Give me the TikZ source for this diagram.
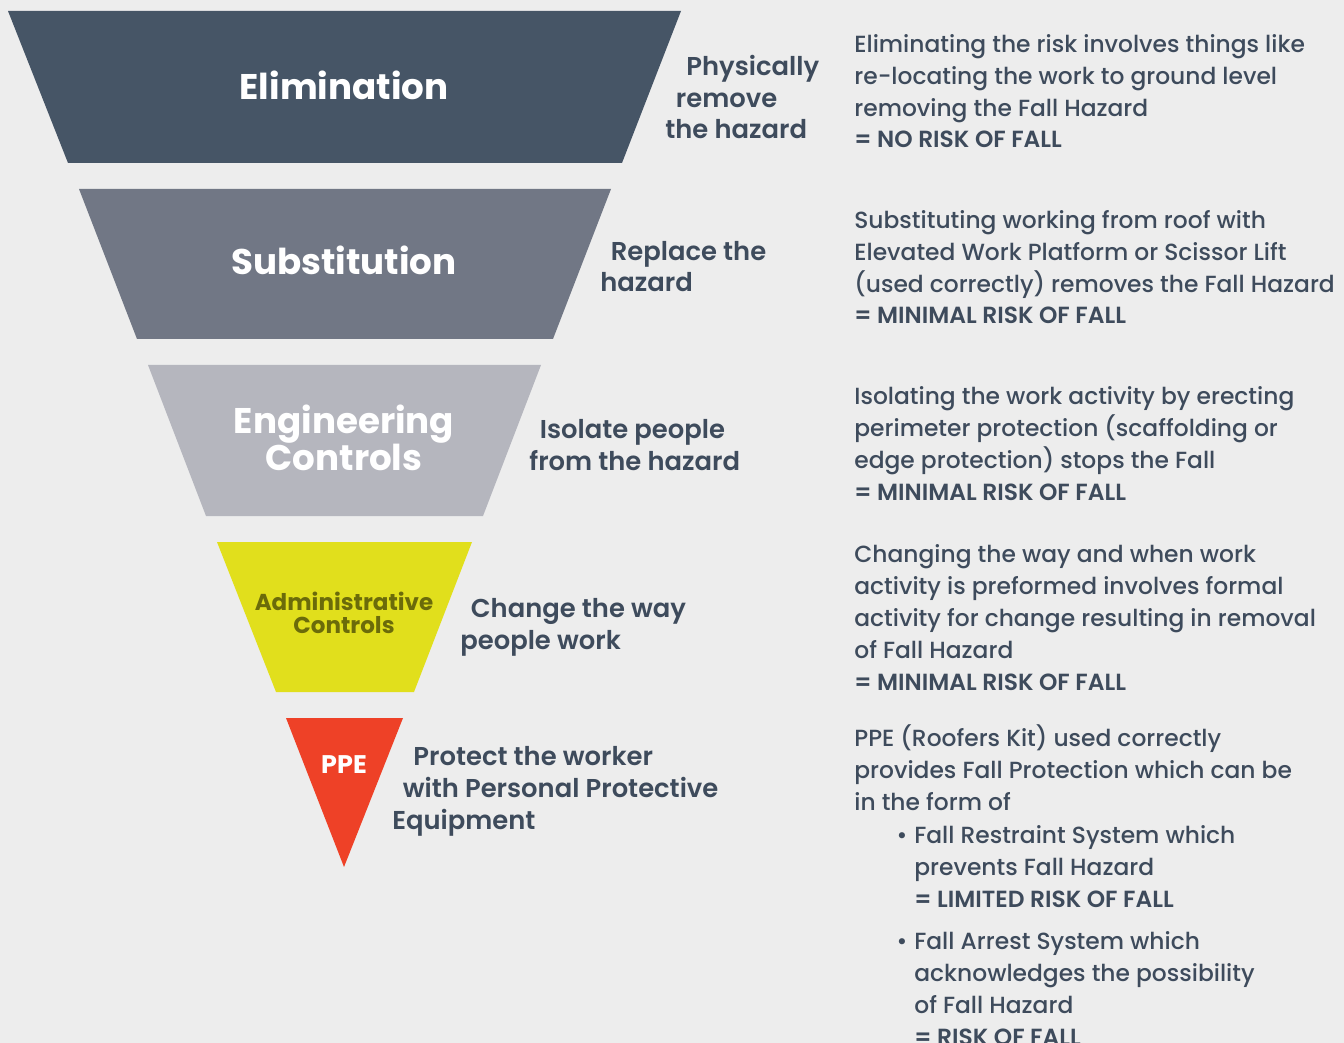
\documentclass[tikz,border=0pt]{standalone}
\usepackage{fontspec}
\setmainfont{Poppins}
\IfFontExistsTF{Poppins Medium}{\newfontfamily\medfont{Poppins Medium}}{\newfontfamily\medfont{Poppins}[FakeBold=0.5]}
\IfFontExistsTF{Poppins SemiBold}{\newfontfamily\semifont{Poppins SemiBold}}{\let\semifont\bfseries}

\definecolor{bgray}{HTML}{EDEDED}
\definecolor{slate}{HTML}{3E4B5C}
\definecolor{elimcol}{HTML}{465566}
\definecolor{subcol}{HTML}{717785}
\definecolor{engcol}{HTML}{B5B6BE}
\definecolor{admcol}{HTML}{E1DF1C}
\definecolor{admtext}{HTML}{6B6B0A}
\definecolor{ppecol}{HTML}{EE4127}

% multi-line nodes sit on the baseline of their last line
\tikzset{
  bandlabel/.style={anchor=base, align=center, inner sep=0pt, text=white,
    font=\bfseries\fontsize{20.3}{21}\selectfont},
  sidelabel/.style={anchor=base west, align=left, inner sep=0pt, text=slate,
    font=\semifont\fontsize{14.7}{18.1}\selectfont},
  infotext/.style={anchor=base west, align=left, inner sep=0pt, text=slate,
    font=\medfont\fontsize{13.3}{18.1}\selectfont}
}

\begin{document}
\begin{tikzpicture}[x=0.02cm, y=-0.02cm]
     % Background
     \fill[bgray] (0,0) rectangle (1344,1043);
     \clip (0,0) rectangle (1344,1043);

     % Elimination
     \fill[elimcol] (8,11) -- (681,11) -- (622,163) -- (68,163) -- cycle;
     \node[bandlabel] (elim) at (344,100) {Elimination};
     \node[sidelabel] (elimside) at (665,139) {\hspace*{12pt}Physically\\\hspace*{6pt}remove\\the hazard};

     % Substitution
     \fill[subcol] (79,189) -- (611,189) -- (553,339) -- (137,339) -- cycle;
     \node[bandlabel] (subst) at (344,275) {Substitution};
     \node[sidelabel] (substside) at (600,292) {\hspace*{6pt}Replace the\\hazard};

     % Engineering Controls
     \fill[engcol] (148,365) -- (541,365) -- (483,516) -- (206,516) -- cycle;
     \node[bandlabel] (eng) at (344,470) {Engineering\\Controls};
     \node[sidelabel] (engside) at (529,470) {\hspace*{6pt}Isolate people\\from the hazard};

     % Administrative Controls
     \fill[admcol] (217,542) -- (472,542) -- (414,692) -- (276,692) -- cycle;
     \node[bandlabel, text=admtext, font=\bfseries\fontsize{13.1}{13}\selectfont] (admin) at (344,633) {Administrative\\Controls};
     \node[sidelabel] (adminside) at (460,649) {\hspace*{6pt}Change the way\\people work};

     % PPE
     \fill[ppecol] (286,718) -- (403,718) -- (344,867) -- cycle;
     \node[bandlabel, font=\bfseries\fontsize{14.5}{15}\selectfont] (ppe) at (344,773) {PPE};
     \node[sidelabel] (ppeside) at (392,829) {\hspace*{12pt}Protect the worker\\\hspace*{6pt}with Personal Protective\\Equipment};

     % Right hand column
     \node[infotext] (eliminfo) at (854,148) {Eliminating the risk involves things like\\re-locating the work to ground level\\removing the Fall Hazard\\{\semifont = NO RISK OF FALL}};
     \node[infotext] (substinfo) at (854,324) {Substituting working from roof with\\Elevated Work Platform or Scissor Lift\\(used correctly) removes the Fall Hazard\\{\semifont = MINIMAL RISK OF FALL}};
     \node[infotext] (enginfo) at (854,500) {Isolating the work activity by erecting\\perimeter protection (scaffolding or\\edge protection) stops the Fall\\{\semifont = MINIMAL RISK OF FALL}};
     \node[infotext] (admininfo) at (854,690) {Changing the way and when work\\activity is preformed involves formal\\activity for change resulting in removal\\of Fall Hazard\\{\semifont = MINIMAL RISK OF FALL}};
     \node[infotext] (ppeinfo) at (854,810) {PPE (Roofers Kit) used correctly\\provides Fall Protection which can be\\in the form of};
     \node[infotext] (restraint) at (914,907) {\llap{\textbullet\hspace{4pt}}Fall Restraint System which\\prevents Fall Hazard\\{\semifont = LIMITED RISK OF FALL}};
     \node[infotext] (arrest) at (914,1045) {\llap{\textbullet\hspace{4pt}}Fall Arrest System which\\acknowledges the possibility\\of Fall Hazard\\{\semifont = RISK OF FALL}};

\end{tikzpicture}
\end{document}
